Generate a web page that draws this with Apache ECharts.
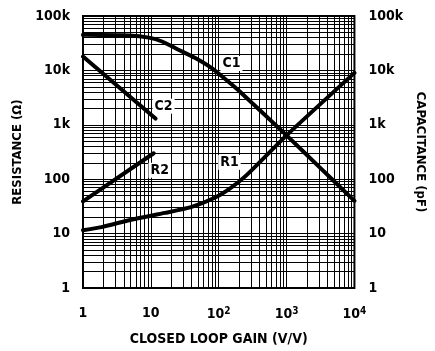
<!DOCTYPE html>
<html><head><meta charset="utf-8">
<script src="https://cdn.jsdelivr.net/npm/echarts@6/dist/echarts.min.js"></script>
<style>html,body{margin:0;padding:0;background:#fff}#c{width:435px;height:351px}</style>
</head><body><div id="c"></div>
<script>
// ---- data ----
const c1 = [[1,45000],[4.8,43800],[9.35,40000],[14.6,34000],[25.5,24000],[44.5,17000],[77,11200],[135,6400],[188,4500],[1000,640],[3000,170],[10000,40]];
const c2 = [[1,18000],[11.7,1300]];
const r2 = [[1,39],[11,300]];
const r1 = [[1,11.5],[1.95,13.3],[5.3,18.2],[16.1,24],[39,30.6],[85.6,45],[149,68.6],[260,120],[1000,640],[10000,9000]];
const curveLabels = [
  {name:'C1', coord:[154,13400]},
  {name:'C2', coord:[15.4,2200]},
  {name:'R2', coord:[13.5,146]},
  {name:'R1', coord:[144,204]}
];
const xTickLabels = {1:'1',10:'10',100:'10{s|2}',1000:'10{s|3}',10000:'10{s|4}'};
const yTickLabels = {1:'1',10:'10',100:'100',1000:'1k',10000:'10k',100000:'100k'};
const xTitle = 'CLOSED LOOP GAIN (V/V)';
const yLeftTitle = 'RESISTANCE (\u03A9)';
const yRightTitle = 'CAPACITANCE (pF)';

const FONT = '"Liberation Sans Narrow","DejaVu Sans Condensed","Liberation Sans",sans-serif';

// minor log grid lines (2..9 within each decade)
const minorX = [], minorY = [];
for (let d = 1; d < 10000; d *= 10) for (let m = 2; m <= 9; m++) minorX.push({xAxis: m*d});
for (let d = 1; d < 100000; d *= 10) for (let m = 2; m <= 9; m++) minorY.push({yAxis: m*d});

const lineSty = {color:'#000', width:4, cap:'round', join:'round'};
function curve(data){
  return {type:'line', data, symbol:'none', smooth:0.2,
    lineStyle:lineSty, z:5, silent:true, animation:false};
}
const chart = echarts.init(document.getElementById('c'), null, {renderer:'canvas'});
const axisLabelY = {fontFamily:FONT, fontWeight:'bold', fontSize:14, color:'#000',
  formatter:v => yTickLabels[Math.round(v)] || ''};
chart.setOption({
  animation:false,
  grid:{left:83, right:76, top:16, bottom:60, show:true, borderColor:'#000', borderWidth:2, backgroundColor:'#fff'},
  xAxis:{type:'log', logBase:10, min:1, max:10000,
    name:xTitle, nameLocation:'middle', nameGap:44,
    nameTextStyle:{fontFamily:FONT, fontWeight:'bold', fontSize:14, color:'#000'},
    axisLine:{show:false}, axisTick:{show:false},
    splitLine:{show:true, lineStyle:{color:'#000', width:1}},
    axisLabel:{fontFamily:FONT, fontWeight:'bold', fontSize:14, color:'#000', margin:18,
      formatter:v => xTickLabels[Math.round(v)] || '',
      rich:{s:{fontFamily:FONT, fontWeight:'bold', fontSize:10, color:'#000', verticalAlign:'top', padding:[0,0,6,0]}}}
  },
  yAxis:[
    {type:'log', logBase:10, min:1, max:100000, position:'left',
      name:yLeftTitle, nameLocation:'middle', nameGap:50,
      nameTextStyle:{fontFamily:FONT, fontWeight:'bold', fontSize:13, color:'#000'},
      axisLine:{show:false}, axisTick:{show:false},
      splitLine:{show:true, lineStyle:{color:'#000', width:1}},
      axisLabel:Object.assign({margin:13}, axisLabelY)},
    {type:'log', logBase:10, min:1, max:100000, position:'right',
      name:yRightTitle, nameLocation:'middle', nameGap:54, nameRotate:-90,
      nameTextStyle:{fontFamily:FONT, fontWeight:'bold', fontSize:13, color:'#000'},
      axisLine:{show:false}, axisTick:{show:false}, splitLine:{show:false},
      axisLabel:Object.assign({margin:14}, axisLabelY)}
  ],
  series:[
    {type:'line', data:[], silent:true, z:1,
      markLine:{silent:true, symbol:'none', animation:false, label:{show:false},
        lineStyle:{color:'#000', width:1, type:'solid'},
        data: minorX.concat(minorY)},
      markPoint:{silent:true, symbol:'rect', symbolSize:[1,1], animation:false,
        itemStyle:{color:'rgba(0,0,0,0)'},
        label:{show:true, position:'inside', formatter:p=>p.name, fontFamily:FONT, fontWeight:'bold', fontSize:14,
          color:'#000', backgroundColor:'#fff', padding:[1,2,0,2]},
        data: curveLabels}
    },
    curve(c1), curve(c2), curve(r2), curve(r1)
  ]
});
</script></body></html>
